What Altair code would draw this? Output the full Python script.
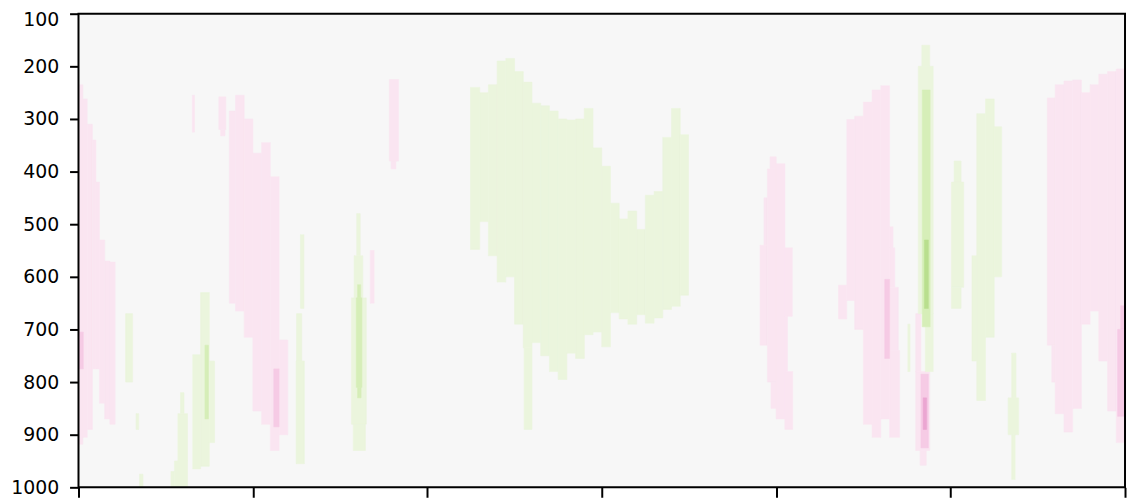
import altair as alt
import pandas as pd

# ---- axis definitions ----
x_domain = [0, 120]
p_domain = [100, 1000]
x_ticks = [0, 20, 40, 60, 80, 100, 120]
p_ticks = [100, 200, 300, 400, 500, 600, 700, 800, 900, 1000]

# ---- contour bands: (x_start, x_end, p_top, p_bottom) ----
pink_1 = [
    (0.0, 0.5, 235, 918), (0.5, 1.0, 262, 905), (1.0, 1.6, 310, 890),
    (1.6, 2.0, 340, 775), (2.0, 2.4, 420, 775), (2.4, 3.0, 530, 840),
    (3.0, 3.6, 570, 870), (3.6, 4.2, 572, 880),
    (13.05, 13.3, 255, 325),
    (16.1, 16.9, 258, 320), (16.3, 16.8, 320, 332),
    (17.3, 18.0, 285, 650), (18.0, 19.0, 255, 665), (19.0, 20.0, 300, 715),
    (20.0, 21.0, 365, 855), (21.0, 22.0, 345, 880), (22.0, 23.0, 410, 930),
    (23.0, 24.0, 720, 900),
    (33.45, 33.9, 550, 650),
    (35.65, 36.7, 225, 380), (35.85, 36.4, 380, 395),
    (78.6, 79.0, 450, 540), (78.15, 79.0, 540, 730),
    (79.3, 80.0, 372, 395), (79.0, 80.0, 395, 800), (79.4, 80.0, 800, 850),
    (80.0, 81.0, 385, 870),
    (81.0, 81.85, 545, 675), (81.0, 81.3, 675, 780), (81.0, 81.9, 780, 890),
    (87.15, 88.1, 616, 680), (88.1, 89.0, 301, 645), (89.0, 90.0, 295, 700),
    (90.0, 91.0, 268, 880), (91.0, 92.0, 245, 905), (92.0, 93.0, 237, 870),
    (93.0, 93.4, 505, 545), (93.0, 93.6, 545, 620), (93.0, 94.0, 620, 740),
    (93.0, 94.15, 740, 905),
    (96.0, 96.6, 670, 780), (96.0, 97.6, 780, 930), (96.5, 97.2, 930, 958),
    (111.1, 112.0, 260, 730), (111.6, 112.0, 730, 800), (112.0, 113.0, 235, 860),
    (113.0, 114.0, 228, 895), (114.0, 115.0, 226, 850), (115.0, 116.0, 250, 690),
    (116.0, 117.0, 235, 665), (117.0, 118.0, 215, 760), (118.0, 119.0, 210, 855),
    (119.0, 120.0, 205, 915),
]
pink_2 = [
    (0.0, 0.55, 705, 775),
    (22.4, 23.0, 775, 885),
    (92.45, 93.0, 605, 755),
    (96.6, 97.45, 785, 925),
    (119.5, 120.0, 655, 700), (119.15, 120.0, 700, 865),
]
pink_3 = [
    (96.85, 97.25, 830, 890),
]
green_1 = [
    (5.4, 6.2, 670, 800),
    (6.6, 6.9, 860, 890),
    (7.0, 7.4, 975, 1000),
    (13.1, 14.0, 748, 965), (14.0, 15.0, 630, 960), (15.0, 15.6, 760, 915),
    (11.7, 12.1, 820, 860), (11.4, 12.5, 860, 950), (11.0, 12.5, 950, 1000),
    (10.6, 11.0, 970, 1000),
    (25.45, 25.85, 520, 660), (25.0, 25.6, 670, 760), (24.95, 25.9, 760, 955),
    (31.9, 32.3, 480, 560), (31.6, 32.6, 560, 640), (31.3, 33.0, 640, 880),
    (31.5, 32.9, 880, 930),
    (44.95, 46.0, 240, 548), (46.0, 47.0, 250, 495), (47.0, 48.0, 235, 560),
    (48.0, 49.0, 190, 610), (49.0, 50.0, 185, 600), (50.0, 51.0, 210, 690),
    (51.0, 52.0, 230, 735), (51.1, 52.0, 735, 890), (52.0, 53.0, 270, 725),
    (53.0, 54.0, 275, 750), (54.0, 55.0, 285, 780), (55.0, 56.0, 300, 795),
    (56.0, 57.0, 302, 745), (57.0, 58.0, 300, 755), (58.0, 59.0, 280, 710),
    (59.0, 60.0, 355, 705), (60.0, 61.0, 390, 733), (61.0, 62.0, 460, 668),
    (62.0, 63.0, 490, 680), (63.0, 64.0, 475, 690), (64.0, 65.0, 510, 672),
    (65.0, 66.0, 445, 688), (66.0, 67.0, 438, 678), (67.0, 68.0, 335, 662),
    (68.0, 69.0, 280, 656), (69.0, 69.95, 330, 635),
    (95.1, 95.35, 690, 780),
    (96.7, 97.6, 160, 200), (96.3, 98.0, 200, 670), (97.1, 98.0, 670, 780),
    (100.4, 101.2, 380, 420), (100.1, 101.5, 420, 620), (100.1, 101.2, 620, 660),
    (102.45, 103.0, 560, 760), (103.0, 104.0, 290, 835), (104.0, 105.0, 262, 715),
    (105.0, 105.85, 315, 600),
    (107.0, 107.5, 745, 830), (106.6, 107.8, 830, 900), (107.0, 107.4, 900, 985),
]
green_2 = [
    (14.5, 14.9, 730, 870),
    (32.0, 32.35, 615, 640), (31.85, 32.5, 640, 810), (32.0, 32.4, 810, 830),
    (96.75, 97.65, 245, 695),
]
green_3 = [
    (97.0, 97.45, 530, 660),
]

band_names = ["p1", "g1", "p2", "g2", "p3", "g3"]
band_colors = ["#fae5f1", "#ebf5dd", "#f6cbe5", "#d6eeb8", "#eba6d2", "#b9df8e"]
background = "#f7f7f7"

rows = []
for name, runs in zip(band_names, [pink_1, green_1, pink_2, green_2, pink_3, green_3]):
    for x0, x1, pt, pb in runs:
        rows.append({"x0": x0, "x1": x1, "p0": pt, "p1": pb, "band": name})
df = pd.DataFrame(rows)

frame_df = pd.DataFrame([{"x0": x_domain[0], "x1": x_domain[1],
                          "p0": p_domain[0], "p1": p_domain[1]}])

xscale = alt.Scale(domain=x_domain, nice=False, zero=False)
yscale = alt.Scale(domain=p_domain, reverse=True, nice=False, zero=False)
cscale = alt.Scale(domain=band_names, range=band_colors)

xaxis = alt.Axis(values=x_ticks, labels=False, title=None, grid=False, domain=False,
                 ticks=True, tickColor="black", tickWidth=2, tickSize=10)
yaxis = alt.Axis(values=p_ticks, format="d", title=None, grid=False, domain=False,
                 tickColor="black", tickWidth=2, tickSize=9, labelPadding=11,
                 labelFont="DejaVu Sans", labelFontSize=19, labelColor="black",
                 labelOffset={"condition": {"test": "datum.value == 100", "value": 6},
                              "value": 0})

bands = alt.Chart(df).mark_rect(strokeWidth=0.6).encode(
    x=alt.X("x0:Q", scale=xscale, axis=xaxis),
    x2="x1:Q",
    y=alt.Y("p0:Q", scale=yscale, axis=yaxis),
    y2="p1:Q",
    color=alt.Color("band:N", scale=cscale, legend=None),
    stroke=alt.Stroke("band:N", scale=cscale, legend=None),
)

frame = alt.Chart(frame_df).mark_rect(fillOpacity=0, stroke="black", strokeWidth=2).encode(
    x=alt.X("x0:Q", scale=xscale, axis=xaxis),
    x2="x1:Q",
    y=alt.Y("p0:Q", scale=yscale, axis=yaxis),
    y2="p1:Q",
)

chart = alt.layer(bands, frame).properties(
    width=1054, height=477,
    autosize=alt.AutoSizeParams(type="none"),
    padding={"left": 71, "top": 4, "right": 2, "bottom": 9},
).configure_view(fill=background, stroke=None)

chart.save("out.html", embed_options={"renderer": "svg", "actions": False})
